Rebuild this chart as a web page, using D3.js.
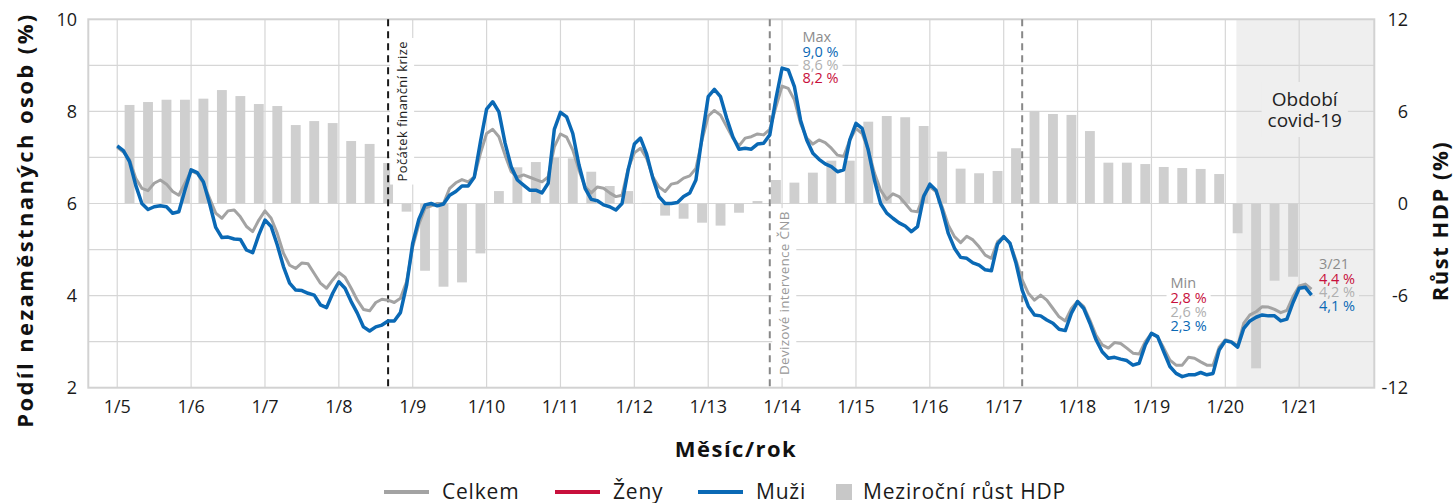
<!DOCTYPE html>
<html lang="cs">
<head>
<meta charset="utf-8">
<script src="https://cdnjs.cloudflare.com/ajax/libs/d3/7.8.5/d3.min.js"></script>
<style>
  body { margin: 0; background: #fff; }
  text { font-family: "Open Sans", "DejaVu Sans", sans-serif; }
</style>
</head>
<body>
<script>
// monthly share of unemployed persons (%), Jan 2005 - Mar 2021
var celkem = [
  7.22, 7.12, 6.95, 6.55, 6.33, 6.28, 6.44, 6.51, 6.42, 6.26, 6.18, 6.44,
  6.71, 6.65, 6.44, 6.11, 5.79, 5.68, 5.84, 5.86, 5.71, 5.50, 5.39, 5.64,
  5.84, 5.68, 5.35, 4.92, 4.66, 4.59, 4.71, 4.69, 4.48, 4.27, 4.16, 4.34,
  4.50, 4.40, 4.16, 3.90, 3.70, 3.67, 3.85, 3.92, 3.90, 3.85, 3.94, 4.30,
  5.06, 5.55, 5.90, 5.95, 6.00, 6.00, 6.33, 6.45, 6.52, 6.47, 6.58, 7.09,
  7.52, 7.61, 7.45, 7.05, 6.69, 6.57, 6.62, 6.57, 6.52, 6.47, 6.58, 7.23,
  7.51, 7.44, 7.16, 6.73, 6.36, 6.23, 6.36, 6.33, 6.23, 6.15, 6.18, 6.76,
  7.10, 7.20, 6.98, 6.58, 6.36, 6.26, 6.42, 6.45, 6.55, 6.60, 6.76, 7.38,
  7.90, 8.02, 7.92, 7.67, 7.42, 7.25, 7.42, 7.45, 7.51, 7.49, 7.61, 8.10,
  8.55, 8.50, 8.25, 7.74, 7.42, 7.29, 7.38, 7.32, 7.20, 7.05, 7.02, 7.38,
  7.63, 7.52, 7.16, 6.66, 6.29, 6.09, 6.21, 6.15, 6.00, 5.84, 5.82, 6.18,
  6.36, 6.26, 5.93, 5.53, 5.28, 5.15, 5.29, 5.21, 5.06, 4.88, 4.81, 5.17,
  5.28, 5.14, 4.77, 4.34, 4.05, 3.90, 4.01, 3.90, 3.72, 3.54, 3.45, 3.72,
  3.88, 3.76, 3.47, 3.14, 2.93, 2.86, 2.98, 2.96, 2.86, 2.75, 2.73, 3.00,
  3.18, 3.10, 2.86, 2.60, 2.49, 2.49, 2.66, 2.64, 2.56, 2.49, 2.49, 2.88,
  3.04, 3.00, 2.91, 3.40, 3.58, 3.65, 3.76, 3.75, 3.70, 3.63, 3.68, 3.98,
  4.21, 4.25, 4.14
];
var muzi = [
  7.25, 7.15, 6.91, 6.40, 6.00, 5.87, 5.93, 5.95, 5.93, 5.79, 5.82, 6.29,
  6.73, 6.67, 6.47, 6.00, 5.48, 5.26, 5.27, 5.23, 5.22, 4.99, 4.93, 5.32,
  5.64, 5.50, 5.10, 4.63, 4.27, 4.12, 4.11, 4.05, 4.01, 3.80, 3.74, 4.05,
  4.30, 4.16, 3.87, 3.62, 3.32, 3.23, 3.32, 3.36, 3.45, 3.45, 3.63, 4.22,
  5.14, 5.66, 5.97, 6.00, 5.95, 5.99, 6.18, 6.26, 6.38, 6.38, 6.57, 7.34,
  8.05, 8.21, 7.99, 7.31, 6.80, 6.51, 6.40, 6.29, 6.29, 6.23, 6.44, 7.61,
  7.98, 7.88, 7.52, 6.84, 6.33, 6.09, 6.06, 5.97, 5.93, 5.86, 6.00, 6.73,
  7.29, 7.42, 7.07, 6.55, 6.15, 6.00, 6.00, 6.02, 6.15, 6.23, 6.51, 7.45,
  8.32, 8.48, 8.32, 7.85, 7.45, 7.18, 7.20, 7.18, 7.29, 7.31, 7.49, 8.28,
  8.94, 8.90, 8.54, 7.81, 7.38, 7.09, 6.96, 6.86, 6.80, 6.69, 6.73, 7.38,
  7.74, 7.63, 7.16, 6.51, 6.00, 5.79, 5.68, 5.58, 5.51, 5.39, 5.50, 6.15,
  6.42, 6.29, 5.86, 5.35, 5.03, 4.83, 4.81, 4.71, 4.66, 4.56, 4.54, 5.12,
  5.28, 5.14, 4.70, 4.12, 3.77, 3.58, 3.56, 3.47, 3.40, 3.27, 3.24, 3.62,
  3.87, 3.72, 3.40, 3.04, 2.78, 2.64, 2.66, 2.62, 2.59, 2.49, 2.53, 2.93,
  3.18, 3.11, 2.78, 2.46, 2.31, 2.24, 2.28, 2.28, 2.33, 2.28, 2.31, 2.82,
  3.02, 2.99, 2.88, 3.29, 3.45, 3.53, 3.58, 3.56, 3.56, 3.45, 3.49, 3.85,
  4.16, 4.18, 4.01
];
// quarterly year-on-year GDP growth (%), 2005 Q1 - 2020 Q4
var hdp = [
  6.42, 6.61, 6.76, 6.76,   6.83, 7.39, 7.00, 6.48,
  6.35, 5.11, 5.37, 5.24,   4.07, 3.88, 2.64, -0.53,
  -4.38, -5.42, -5.14, -3.25,   0.81, 2.36, 2.70, 3.00,
  2.94, 2.07, 1.14, 0.81,   0.04, -0.79, -0.99, -1.25,
  -1.44, -0.60, 0.16, 1.53,   1.36, 2.01, 2.79, 2.79,
  5.33, 5.70, 5.62, 5.05,   3.38, 2.27, 1.97, 2.12,
  3.60, 6.03, 5.83, 5.77,   4.72, 2.66, 2.66, 2.57,
  2.38, 2.31, 2.25, 1.92,   -1.94, -10.74, -5.03, -4.77
];
var yearLabels = ["1/5","1/6","1/7","1/8","1/9","1/10","1/11","1/12","1/13",
                  "1/14","1/15","1/16","1/17","1/18","1/19","1/20","1/21"];
var leftTicks = [2, 4, 6, 8, 10];
var rightTicks = [-12, -6, 0, 6, 12];
// events, in months from Jan 2005
var krizeMonth = 44, intervenceStart = 106, intervenceEnd = 147, covidStart = 181.8;

var W = 1453, H = 503;
var plot = {left: 88.3, right: 1374.3, top: 19.3, bottom: 387.7};

var BLUE = "#0a69b5", GREY = "#a3a3a3", RED = "#c8103c";

var x = d3.scaleLinear().domain([-4.7, 204.2]).range([plot.left, plot.right]);
var y = d3.scaleLinear().domain([2, 10]).range([plot.bottom, plot.top]);
var y2 = d3.scaleLinear().domain([-12, 12]).range([plot.bottom, plot.top]);

var svg = d3.select("body").append("svg")
    .attr("width", W)
    .attr("height", H);

// covid period shade
svg.append("rect")
    .attr("x", x(covidStart))
    .attr("y", plot.top)
    .attr("width", plot.right - x(covidStart))
    .attr("height", plot.bottom - plot.top)
    .attr("fill", "#efefef");

// grid
var grid = svg.append("g").attr("stroke", "#d6d6d6").attr("stroke-width", 1.2);
grid.selectAll(".gy")
    .data(d3.range(3, 10))
    .enter().append("line")
    .attr("x1", plot.left).attr("x2", plot.right)
    .attr("y1", function(d) { return y(d); })
    .attr("y2", function(d) { return y(d); });
grid.selectAll(".gx")
    .data(yearLabels)
    .enter().append("line")
    .attr("x1", function(d, i) { return x(i * 12); })
    .attr("x2", function(d, i) { return x(i * 12); })
    .attr("y1", plot.top).attr("y2", plot.bottom);

// frame
svg.append("rect")
    .attr("x", plot.left).attr("y", plot.top)
    .attr("width", plot.right - plot.left)
    .attr("height", plot.bottom - plot.top)
    .attr("fill", "none")
    .attr("stroke", "#d2d2d2")
    .attr("stroke-width", 2);

// gdp bars (centred two months into each quarter)
svg.append("g").selectAll("rect")
    .data(hdp)
    .enter().append("rect")
    .attr("x", function(d, i) { return x(i * 3 + 2 - 0.8); })
    .attr("width", function(d, i) { return x(i * 3 + 2 + 0.8) - x(i * 3 + 2 - 0.8); })
    .attr("y", function(d) { return y2(Math.max(0, d)); })
    .attr("height", function(d) { return Math.abs(y2(d) - y2(0)); })
    .attr("fill", "#cfcfcf");

// label with a background box that hides the grid behind it
function boxedText(g, bg, pad) {
  var b = g.node().getBBox();
  g.insert("rect", ":first-child")
      .attr("x", b.x - pad[0]).attr("y", b.y - pad[1])
      .attr("width", b.width + 2 * pad[0]).attr("height", b.height + 2 * pad[1])
      .attr("fill", bg);
}

// event lines
var ev1 = svg.append("g");
ev1.append("text")
    .attr("transform", "translate(" + (x(krizeMonth) + 19) + "," + 41 + ") rotate(-90)")
    .attr("text-anchor", "end")
    .style("font-size", "13px")
    .style("letter-spacing", "0.4px")
    .attr("fill", "#222")
    .text("Počátek finanční krize");
boxedText(ev1, "#fff", [3, 3]);
svg.append("line")
    .attr("x1", x(krizeMonth)).attr("x2", x(krizeMonth))
    .attr("y1", plot.top).attr("y2", plot.bottom)
    .attr("stroke", "#1a1a1a").attr("stroke-width", 2)
    .attr("stroke-dasharray", "7,5");

var ev2 = svg.append("g");
ev2.append("text")
    .attr("transform", "translate(" + (x(intervenceStart) + 19.5) + "," + 375 + ") rotate(-90)")
    .attr("text-anchor", "start")
    .style("font-size", "13.5px")
    .style("letter-spacing", "0.3px")
    .attr("fill", "#999")
    .text("Devizové intervence ČNB");
boxedText(ev2, "#fff", [3, 3]);
[intervenceStart, intervenceEnd].forEach(function(m) {
  svg.append("line")
      .attr("x1", x(m)).attr("x2", x(m))
      .attr("y1", plot.top).attr("y2", plot.bottom)
      .attr("stroke", "#888").attr("stroke-width", 2)
      .attr("stroke-dasharray", "7,5");
});

// covid label
var cov = svg.append("g").attr("text-anchor", "middle").style("font-size", "19px").attr("fill", "#222");
cov.append("text").attr("x", x(192.9)).attr("y", 106).text("Období");
cov.append("text").attr("x", x(192.9)).attr("y", 127).text("covid-19");
boxedText(cov, "#efefef", [6, 4]);

// lines
var line = d3.line()
    .x(function(d, i) { return x(i); })
    .y(function(d) { return y(d); });

svg.append("path")
    .datum(celkem)
    .attr("d", line)
    .attr("fill", "none")
    .attr("stroke", GREY)
    .attr("stroke-width", 3)
    .attr("stroke-linejoin", "round");

svg.append("path")
    .datum(muzi)
    .attr("d", line)
    .attr("fill", "none")
    .attr("stroke", BLUE)
    .attr("stroke-width", 3.5)
    .attr("stroke-linejoin", "round");

// annotations: header, then the three values
function note(m, ys, rows, bg) {
  var g = svg.append("g").style("font-size", "14.5px");
  rows.forEach(function(r, i) {
    g.append("text").attr("x", x(m)).attr("y", ys[i]).attr("fill", r[1]).text(r[0]);
  });
  boxedText(g, bg, [4, 1]);
}
note(111.3, [41.7, 56.7, 70, 83.3],
     [["Max", "#8c8c8c"], ["9,0 %", BLUE], ["8,6 %", "#b0b0b0"], ["8,2 %", RED]], "#fff");
note(171.1, [288.3, 303.3, 317.3, 330.7],
     [["Min", "#8c8c8c"], ["2,8 %", RED], ["2,6 %", "#b0b0b0"], ["2,3 %", BLUE]], "#fff");
note(195.2, [269.3, 284.3, 297.3, 310.7],
     [["3/21", "#8c8c8c"], ["4,4 %", RED], ["4,2 %", "#b0b0b0"], ["4,1 %", BLUE]], "#efefef");

// axes
var ax = svg.append("g").style("font-size", "18px").attr("fill", "#1a1a1a");
ax.selectAll(".xl")
    .data(yearLabels)
    .enter().append("text")
    .attr("x", function(d, i) { return x(i * 12); })
    .attr("y", 413)
    .attr("text-anchor", "middle")
    .text(function(d) { return d; });
ax.selectAll(".yl")
    .data(leftTicks)
    .enter().append("text")
    .attr("x", 77)
    .attr("y", function(d) { return y(d) + 6.5; })
    .attr("text-anchor", "end")
    .text(function(d) { return d; });
ax.selectAll(".yr")
    .data(rightTicks)
    .enter().append("text")
    .attr("x", 1408)
    .attr("y", function(d) { return y2(d) + 6.5; })
    .attr("text-anchor", "end")
    .text(function(d) { return d; });

svg.append("text")
    .attr("transform", "translate(33," + 220 + ") rotate(-90)")
    .attr("text-anchor", "middle")
    .style("font-size", "22px").style("font-weight", "bold")
    .style("letter-spacing", "2.4px")
    .attr("fill", "#111")
    .text("Podíl nezaměstnaných osob (%)");
svg.append("text")
    .attr("transform", "translate(1448," + 221 + ") rotate(-90)")
    .attr("text-anchor", "middle")
    .style("font-size", "22px").style("font-weight", "bold")
    .style("letter-spacing", "1.5px")
    .attr("fill", "#111")
    .text("Růst HDP (%)");
svg.append("text")
    .attr("x", 736).attr("y", 457)
    .attr("text-anchor", "middle")
    .style("font-size", "22px").style("font-weight", "bold")
    .style("letter-spacing", "1.5px")
    .attr("fill", "#111")
    .text("Měsíc/rok");

// legend
var legendItems = [
  {name: "Celkem", color: GREY, x: 384, kind: "line"},
  {name: "Ženy", color: RED, x: 555, kind: "line"},
  {name: "Muži", color: BLUE, x: 698, kind: "line"},
  {name: "Meziroční růst HDP", color: "#c8c8c8", x: 836, kind: "box"}
];
var lg = svg.append("g").style("font-size", "21px").style("letter-spacing", "0.8px");
legendItems.forEach(function(d) {
  if (d.kind === "line") {
    lg.append("line")
        .attr("x1", d.x).attr("x2", d.x + 45)
        .attr("y1", 492).attr("y2", 492)
        .attr("stroke", d.color).attr("stroke-width", 4);
    lg.append("text").attr("x", d.x + 58).attr("y", 499).attr("fill", "#1a1a1a").text(d.name);
  } else {
    lg.append("rect")
        .attr("x", d.x).attr("y", 484).attr("width", 16).attr("height", 16)
        .attr("fill", d.color);
    lg.append("text").attr("x", d.x + 27).attr("y", 499).attr("fill", "#1a1a1a").text(d.name);
  }
});
</script>
</body>
</html>
